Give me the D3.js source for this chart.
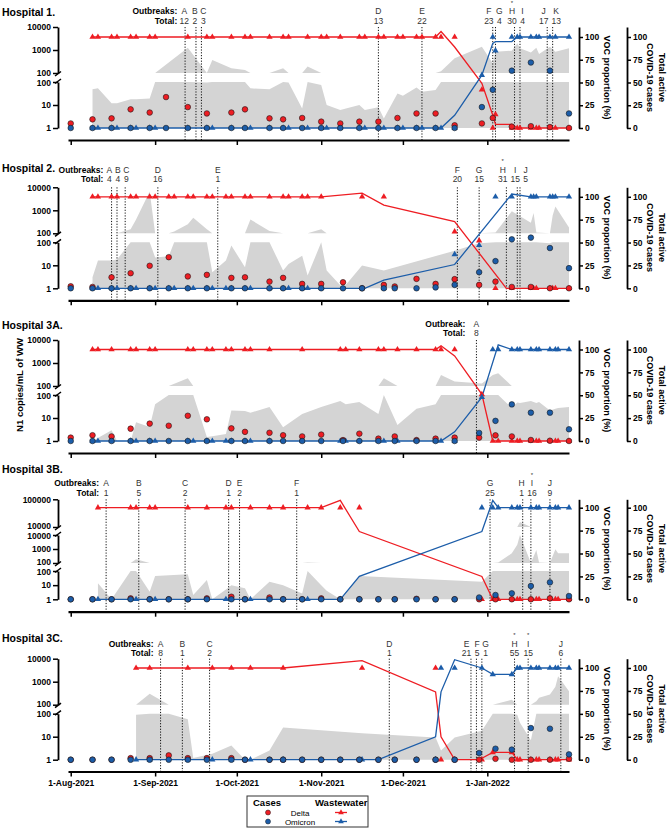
<!DOCTYPE html>
<html>
<head>
<meta charset="utf-8">
<script src="https://cdn.jsdelivr.net/npm/d3@7"></script>
<style>
  body { margin: 0; background: #fff; }
  svg { font-family: "Liberation Sans", Arial, Helvetica, sans-serif; }
</style>
</head>
<body>
<svg id="chart" width="667" height="830"></svg>
<script>
// ---- data: [date, N1 copies/mL], [date, delta %, omicron %], [date, delta cases, omicron cases]
const h1N1 = [["2021-08-09",48],["2021-08-11",53],["2021-08-16",12],["2021-08-18",12],["2021-08-23",18],["2021-08-25",18],["2021-08-30",19],["2021-09-01",100],["2021-09-13",1260],["2021-09-20",95],["2021-09-22",370],["2021-09-29",160],["2021-10-04",135],["2021-10-06",53],["2021-10-13",48],["2021-10-18",160],["2021-10-20",95],["2021-10-25",7],["2021-10-27",190],["2021-11-01",74],["2021-11-03",10],["2021-11-08",6],["2021-11-15",10],["2021-11-17",6],["2021-11-22",8],["2021-11-24",2.6],["2021-11-29",32],["2021-12-01",25],["2021-12-06",58],["2021-12-08",38],["2021-12-13",45],["2021-12-15",120],["2021-12-20",435],["2021-12-30",1390],["2022-01-03",263],["2022-01-04",840],["2022-01-10",930],["2022-01-12",1950],["2022-01-13",1180],["2022-01-17",770],["2022-01-19",1260],["2022-01-20",670],["2022-01-24",1400],["2022-01-26",840],["2022-01-31",1180]]
const h1Voc = [["2021-08-09",100,0],["2021-08-11",100,0],["2021-08-16",100,0],["2021-08-18",100,0],["2021-08-23",100,0],["2021-08-25",100,0],["2021-08-30",100,0],["2021-09-01",100,0],["2021-09-13",100,0],["2021-09-20",100,0],["2021-09-22",100,0],["2021-09-29",100,0],["2021-10-04",100,0],["2021-10-06",100,0],["2021-10-13",100,0],["2021-10-18",100,0],["2021-10-20",100,0],["2021-10-27",100,0],["2021-11-01",100,0],["2021-11-03",100,0],["2021-11-08",100,0],["2021-11-15",100,0],["2021-11-17",100,0],["2021-11-22",100,0],["2021-11-24",100,0],["2021-11-29",100,0],["2021-12-01",100,0],["2021-12-06",100,0],["2021-12-08",100,0],["2021-12-13",100,0],["2021-12-15",100,0],["2021-12-20",100,0],["2021-12-30",42,58],["2022-01-03",0,100],["2022-01-04",15,85],["2022-01-10",0,100],["2022-01-12",0,100],["2022-01-13",0,100],["2022-01-17",0,100],["2022-01-19",0,100],["2022-01-20",0,100],["2022-01-24",0,100],["2022-01-26",0,100],["2022-01-31",0,100]]
const h1DeltaFit = [["2021-08-09",100],["2021-12-13",100],["2021-12-15",106],["2021-12-20",89],["2021-12-30",49],["2022-01-03",14],["2022-01-04",4],["2022-01-10",4],["2022-01-12",0],["2022-01-31",0]]
const h1OmicronFit = [["2021-08-09",0],["2021-12-15",0],["2021-12-20",14],["2021-12-30",58],["2022-01-03",93],["2022-01-04",95],["2022-01-10",95],["2022-01-12",100],["2022-01-31",100]]
const h1Cases = [["2021-08-01",5,0],["2021-08-09",9.5,0],["2021-08-16",10.6,0],["2021-08-23",20.5,0],["2021-08-30",17,0],["2021-09-05",34,0],["2021-09-13",23,0],["2021-09-20",16,0],["2021-09-29",17,0],["2021-10-04",20.5,0],["2021-10-13",10.6,0],["2021-10-18",9.5,0],["2021-10-25",11,0],["2021-11-01",7,0],["2021-11-08",5,0],["2021-11-15",7,0],["2021-11-22",7,0],["2021-11-29",11,0],["2021-12-06",16,0],["2021-12-13",16,0],["2021-12-20",3,0],["2021-12-30",5,23],["2022-01-03",11,42],["2022-01-10",1.5,63],["2022-01-17",2,72],["2022-01-24",1,63],["2022-01-31",0,16]]
const h1Outbreaks = [["A","2021-09-12",12],["B","2021-09-16",2],["C","2021-09-18",3],["D","2021-11-22",13],["E","2021-12-08",22],["F","2022-01-03",23],["G","2022-01-04",4],["H","2022-01-11",30,"*"],["I","2022-01-13",4],["J","2022-01-23",17],["K","2022-01-25",13]]

const h2N1 = [["2021-08-09",3],["2021-08-11",16],["2021-08-16",16],["2021-08-18",18],["2021-08-23",150],["2021-08-25",400],["2021-08-30",6500],["2021-09-01",22],["2021-09-06",25],["2021-09-08",120],["2021-09-13",245],["2021-09-15",470],["2021-09-20",150],["2021-09-22",5],["2021-09-27",16],["2021-09-29",72],["2021-10-04",8.2],["2021-10-06",400],["2021-10-13",125],["2021-10-18",5.9],["2021-10-20",11.5],["2021-10-25",26],["2021-10-27",3.6],["2021-11-01",150],["2021-11-03",5.9],["2021-11-09",1],["2021-11-16",9.7],["2021-11-24",5.9],["2021-12-20",43],["2021-12-29",90],["2022-01-04",107],["2022-01-10",900],["2022-01-17",290],["2022-01-18",770],["2022-01-19",107],["2022-01-24",90],["2022-01-25",600],["2022-01-26",1480],["2022-01-31",180]]
const h2Voc = [["2021-08-09",100,0],["2021-08-11",100,0],["2021-08-16",100,0],["2021-08-18",100,0],["2021-08-23",100,0],["2021-08-25",100,0],["2021-08-30",100,0],["2021-09-01",100,0],["2021-09-06",100,0],["2021-09-08",100,0],["2021-09-13",100,0],["2021-09-15",100,0],["2021-09-20",100,0],["2021-09-22",100,0],["2021-09-27",100,0],["2021-09-29",100,0],["2021-10-04",100,0],["2021-10-06",100,0],["2021-10-13",100,0],["2021-10-18",100,0],["2021-10-20",100,0],["2021-10-25",100,0],["2021-10-27",100,0],["2021-11-01",100,0],["2021-11-16",100,0],["2021-11-24",100,0],["2021-12-20",62,37],["2021-12-29",52,47],["2022-01-04",0,100],["2022-01-10",0,100],["2022-01-17",0,100],["2022-01-18",0,100],["2022-01-19",0,100],["2022-01-24",0,100],["2022-01-25",0,100],["2022-01-26",0,100],["2022-01-31",0,100]]
const h2DeltaFit = [["2021-08-09",100],["2021-11-01",100],["2021-11-16",104],["2021-11-24",91],["2021-12-20",73],["2022-01-08",0],["2022-01-31",0]]
const h2OmicronFit = [["2021-08-09",0],["2021-11-17",0],["2021-11-24",9],["2021-12-20",26],["2022-01-10",103],["2022-01-17",100],["2022-01-31",100]]
const h2Cases = [["2021-08-01",2.2,0],["2021-08-09",1.5,0],["2021-08-16",12,0],["2021-08-23",16.5,0],["2021-08-30",24.6,0],["2021-09-06",34,0],["2021-09-13",13,0],["2021-09-20",14.7,0],["2021-09-29",11.4,0],["2021-10-04",12,0],["2021-10-13",7.3,0],["2021-10-18",11.4,0],["2021-10-25",4.8,0],["2021-11-01",4.8,0],["2021-11-09",6.6,0],["2021-11-16",0,0],["2021-11-24",3.7,0],["2021-11-28",2,0],["2021-12-06",10.3,0],["2021-12-13",4.8,1],["2021-12-20",10,3.7],["2021-12-29",3.7,17.6],["2022-01-04",7.3,29.7],["2022-01-10",1.5,53.5],["2022-01-17",1.5,55.4],["2022-01-24",0,44],["2022-01-31",0,22]]
const h2Outbreaks = [["A","2021-08-16",4],["B","2021-08-18",4],["C","2021-08-21",9],["D","2021-09-02",16],["E","2021-09-24",1],["F","2021-12-21",20],["G","2021-12-29",15],["H","2022-01-08",31,"*"],["I","2022-01-12",15],["J","2022-01-13",5]]

const h3aN1 = [["2021-08-09",1],["2021-08-16",2.9],["2021-08-18",1],["2021-08-23",1],["2021-08-25",6.6],["2021-08-30",4.1],["2021-09-01",40],["2021-09-06",100],["2021-09-13",215],["2021-09-15",100],["2021-09-20",1.5],["2021-09-22",1.6],["2021-09-27",2],["2021-09-29",21],["2021-10-04",20],["2021-10-06",17],["2021-10-13",30],["2021-10-18",4],["2021-10-25",15],["2021-11-01",30],["2021-11-08",55],["2021-11-10",40],["2021-11-15",50],["2021-11-22",15],["2021-11-24",215],["2021-11-29",5],["2021-12-06",25],["2021-12-13",40],["2021-12-15",300],["2021-12-20",155],["2021-12-30",130],["2022-01-03",300],["2022-01-05",360],["2022-01-10",27],["2022-01-12",47],["2022-01-13",45],["2022-01-17",55],["2022-01-19",45],["2022-01-20",50],["2022-01-24",21],["2022-01-26",25],["2022-01-27",27],["2022-01-31",30]]
const h3aVoc = [["2021-08-09",100,0],["2021-08-11",100,0],["2021-08-16",100,0],["2021-08-23",100,0],["2021-08-25",100,0],["2021-08-30",100,0],["2021-09-01",100,0],["2021-09-13",100,0],["2021-09-15",100,0],["2021-09-20",100,0],["2021-09-22",100,0],["2021-09-27",100,0],["2021-09-29",100,0],["2021-10-04",100,0],["2021-10-06",100,0],["2021-10-13",100,0],["2021-10-25",100,0],["2021-11-08",100,0],["2021-11-10",100,0],["2021-11-15",100,0],["2021-11-22",100,0],["2021-11-24",100,0],["2021-11-29",100,0],["2021-12-06",100,0],["2021-12-13",100,0],["2021-12-15",100,0],["2021-12-20",100,0],["2021-12-30",51,48],["2022-01-03",0,100],["2022-01-05",0,100],["2022-01-10",0,100],["2022-01-12",0,100],["2022-01-13",0,100],["2022-01-17",0,100],["2022-01-19",0,100],["2022-01-20",0,100],["2022-01-24",0,100],["2022-01-26",0,100],["2022-01-27",0,100],["2022-01-31",0,100]]
const h3aDeltaFit = [["2021-08-09",100],["2021-12-13",100],["2021-12-15",104],["2021-12-20",93],["2021-12-30",51],["2022-01-03",0],["2022-01-31",0]]
const h3aOmicronFit = [["2021-08-09",0],["2021-12-15",0],["2021-12-20",10],["2021-12-30",48],["2022-01-05",105],["2022-01-10",100],["2022-01-31",100]]
const h3aCases = [["2021-08-01",3.7,0],["2021-08-09",6.3,0],["2021-08-16",5,0],["2021-08-23",13.5,0],["2021-08-30",19,0],["2021-09-06",16.7,0],["2021-09-13",27.6,0],["2021-09-20",23.7,0],["2021-09-29",13.8,0],["2021-10-04",10,0],["2021-10-13",9,0],["2021-10-18",6.3,0],["2021-10-25",5,0],["2021-11-01",7,0],["2021-11-09",1,0],["2021-11-15",8,0],["2021-11-22",2.6,0],["2021-11-28",5,0],["2021-12-06",1,0],["2021-12-13",2.6,0],["2021-12-20",3.7,0],["2021-12-29",3.7,8.8],["2022-01-04",6.2,22],["2022-01-10",5,40],["2022-01-17",1.1,31],["2022-01-24",0.3,31],["2022-01-31",0,12.8]]
const h3aOutbreaks = [["A","2021-12-28",8]]

const h3bN1 = [["2021-08-11",13.5],["2021-08-16",1],["2021-08-23",100],["2021-08-25",184],["2021-08-30",3.4],["2021-09-01",44],["2021-09-13",60],["2021-09-15",2],["2021-09-20",23],["2021-09-22",1],["2021-09-27",5],["2021-09-29",10],["2021-10-04",6],["2021-10-06",1],["2021-10-13",17.5],["2021-10-18",10],["2021-10-25",2.6],["2021-10-27",110],["2021-11-01",10],["2021-11-03",4],["2021-11-08",1],["2021-11-15",44],["2021-12-30",17.5],["2022-01-03",100],["2022-01-05",110],["2022-01-10",490],["2022-01-12",2000],["2022-01-13",15000],["2022-01-17",100],["2022-01-19",850],["2022-01-20",110],["2022-01-24",100],["2022-01-26",950],["2022-01-27",500],["2022-01-31",500]]
const h3bVoc = [["2021-08-11",100,0],["2021-08-23",100,0],["2021-08-25",100,0],["2021-08-30",100,0],["2021-09-01",100,0],["2021-09-13",100,0],["2021-09-20",100,0],["2021-09-27",100,0],["2021-09-29",100,0],["2021-10-06",100,0],["2021-10-13",100,0],["2021-10-18",100,0],["2021-10-27",100,0],["2021-11-01",100,0],["2021-11-08",100,0],["2021-11-15",100,0],["2021-12-30",0,100],["2022-01-03",0,100],["2022-01-05",0,100],["2022-01-10",0,100],["2022-01-12",0,100],["2022-01-13",0,100],["2022-01-17",0,100],["2022-01-19",0,100],["2022-01-20",0,100],["2022-01-24",0,100],["2022-01-26",0,100],["2022-01-27",0,100],["2022-01-31",0,100]]
const h3bDeltaFit = [["2021-08-11",100],["2021-11-01",100],["2021-11-08",108],["2021-11-15",74],["2021-12-30",25],["2022-01-03",0],["2022-01-31",0]]
const h3bOmicronFit = [["2021-08-11",0],["2021-11-08",0],["2021-11-15",25],["2021-12-30",74],["2022-01-03",108],["2022-01-05",100],["2022-01-31",100]]
const h3bCases = [["2021-08-01",0,0],["2021-08-09",0,0],["2021-08-16",0,0],["2021-08-23",1,0],["2021-08-30",0,0],["2021-09-06",0,0],["2021-09-13",0,0],["2021-09-20",1,0],["2021-09-29",2.8,0],["2021-10-04",0,0],["2021-10-13",2,0],["2021-10-18",0,0],["2021-10-25",0,0],["2021-11-01",1,0],["2021-11-08",0,0],["2021-11-15",0,0],["2021-11-22",0,0],["2021-11-28",0,0],["2021-12-06",0.5,0],["2021-12-13",0,0],["2021-12-20",0,0],["2021-12-29",0,2],["2022-01-04",0,4.7],["2022-01-10",0,6.5],["2022-01-17",0,14.5],["2022-01-24",1,18.5],["2022-01-31",0,3.6]]
const h3bOutbreaks = [["A","2021-08-14",1],["B","2021-08-26",5],["C","2021-09-12",2],["D","2021-09-28",1],["E","2021-10-02",2],["F","2021-10-23",1],["G","2022-01-02",25],["H","2022-01-14",1],["I","2022-01-17",16,"*"],["J","2022-01-24",9]]

const h3cN1 = [["2021-08-25",90],["2021-08-30",300],["2021-09-06",100],["2021-09-13",57],["2021-09-15",1.2],["2021-09-22",1.8],["2021-09-29",4.1],["2021-10-04",1],["2021-10-06",1],["2021-10-13",2.5],["2021-10-18",25],["2021-11-16",14],["2021-12-13",9.3],["2021-12-15",2.5],["2021-12-20",9.3],["2021-12-30",18],["2022-01-03",100],["2022-01-10",165],["2022-01-12",90],["2022-01-13",40],["2022-01-17",7],["2022-01-19",140],["2022-01-20",200],["2022-01-24",275],["2022-01-26",600],["2022-01-27",1730],["2022-01-31",380]]
const h3cVoc = [["2021-08-25",100,0],["2021-08-30",100,0],["2021-09-13",100,0],["2021-09-22",100,0],["2021-09-29",100,0],["2021-10-06",100,0],["2021-10-18",100,0],["2021-11-16",100,0],["2021-12-13",100,0],["2021-12-15",0,100],["2021-12-20",0,100],["2021-12-30",0,100],["2022-01-03",8,93],["2022-01-10",8,93],["2022-01-12",0,100],["2022-01-13",0,100],["2022-01-17",0,100],["2022-01-19",0,100],["2022-01-20",0,100],["2022-01-24",0,100],["2022-01-26",0,100],["2022-01-27",0,100],["2022-01-31",0,100]]
const h3cDeltaFit = [["2021-08-25",100],["2021-10-18",100],["2021-11-16",108],["2021-12-13",74],["2021-12-15",25],["2021-12-20",0],["2021-12-29",0],["2022-01-03",8],["2022-01-10",8],["2022-01-12",0],["2022-01-31",0]]
const h3cOmicronFit = [["2021-08-25",0],["2021-11-22",0],["2021-12-13",25],["2021-12-15",74],["2021-12-20",109],["2021-12-30",100],["2022-01-03",93],["2022-01-10",93],["2022-01-12",100],["2022-01-31",100]]
const h3cCases = [["2021-08-01",0,0],["2021-08-09",0,0],["2021-08-16",0,0],["2021-08-23",1.7,0],["2021-08-30",1.7,0],["2021-09-06",4.7,0],["2021-09-13",1.7,0],["2021-09-20",1.7,0],["2021-09-29",1.7,0],["2021-10-04",0,0],["2021-10-13",0,0],["2021-10-18",0,0],["2021-10-25",0,0],["2021-11-01",0,0],["2021-11-08",0,0],["2021-11-15",0,0],["2021-11-22",0,0],["2021-11-28",0,0],["2021-12-06",0,0],["2021-12-13",0,0],["2021-12-20",0,0],["2021-12-29",0,7.3],["2022-01-04",1,12],["2022-01-10",0,11],["2022-01-17",0,34.5],["2022-01-24",0,33.8],["2022-01-31",1,5.8]]
const h3cOutbreaks = [["A","2021-09-03",8],["B","2021-09-11",1],["C","2021-09-21",2],["D","2021-11-26",1],["E","2021-12-26",21],["F","2021-12-28",5],["G","2021-12-30",1],["H","2022-01-11",55,"*"],["I","2022-01-16",15,"*"],["J","2022-01-28",6]]

const pctTicks = [0, 25, 50, 75, 100]

// ---- layout
const RED = "#ee1d23", BLUE = "#1c5da9", GREY = "#d4d4d4"
const FONT = 8.5
const parse = d3.utcParse("%Y-%m-%d")
const svg = d3.select("#chart")

const x = d3.scaleUtc()
  .domain([parse("2021-07-31"), parse("2022-01-31")])
  .range([68, 569])
const months = d3.utcMonth.range(parse("2021-08-01"), parse("2022-02-01"))

function twoSegs(y0){
  return [{lo: 100, hi: 10000, yLo: y0 + 46, yHi: y0},
          {lo: 1, hi: 100, yLo: y0 + 101, yHi: y0 + 55}]
}

const panels = [
  {title: "Hospital 1.", titleY: 16, obText: "Outbreaks:", obY: 14, totY: 23.5, obGap: 7,
   segs: twoSegs(27), pctBase: 128, pct100: 37, axisY: 140,
   n1: h1N1, voc: h1Voc, deltaFit: h1DeltaFit, omicronFit: h1OmicronFit, cases: h1Cases, outbreaks: h1Outbreaks},
  {title: "Hospital 2.", titleY: 172, obText: "Outbreaks:", obY: 172.5, totY: 182, obGap: 6,
   segs: twoSegs(187.3), pctBase: 288.3, pct100: 196.8, axisY: 300.3,
   n1: h2N1, voc: h2Voc, deltaFit: h2DeltaFit, omicronFit: h2OmicronFit, cases: h2Cases, outbreaks: h2Outbreaks},
  {title: "Hospital 3A.", titleY: 329, obText: "Outbreak:", obY: 326.5, totY: 336, obGap: 11,
   segs: twoSegs(340), pctBase: 441, pct100: 349.5, axisY: 453,
   n1: h3aN1, voc: h3aVoc, deltaFit: h3aDeltaFit, omicronFit: h3aOmicronFit, cases: h3aCases, outbreaks: h3aOutbreaks},
  {title: "Hospital 3B.", titleY: 473, obText: "Outbreaks:", obY: 486, totY: 495.5, obGap: 7,
   segs: [{lo: 10000, hi: 100000, yLo: 527, yHi: 499.3},
          {lo: 100, hi: 10000, yLo: 563, yHi: 535},
          {lo: 1, hi: 100, yLo: 599.3, yHi: 571}],
   pctBase: 599.3, pct100: 507.7, axisY: 611.7,
   n1: h3bN1, voc: h3bVoc, deltaFit: h3bDeltaFit, omicronFit: h3bOmicronFit, cases: h3bCases, outbreaks: h3bOutbreaks},
  {title: "Hospital 3C.", titleY: 642, obText: "Outbreaks:", obY: 646.5, totY: 656, obGap: 7,
   segs: twoSegs(658.7), pctBase: 759.7, pct100: 668, axisY: 771.5,
   n1: h3cN1, voc: h3cVoc, deltaFit: h3cDeltaFit, omicronFit: h3cOmicronFit, cases: h3cCases, outbreaks: h3cOutbreaks}
]

const px = d => x(parse(d))

function styleAxis(g){
  g.attr("font-size", FONT).attr("font-family", null).attr("font-weight", "bold")
  g.select(".domain").attr("stroke-width", 1.8)
  g.selectAll(".tick line").attr("stroke-width", 1.5)
  g.selectAll(".tick text").attr("fill", "#000")
}

function spreadLabels(items){
  for (let it = 0; it < 60; it++) {
    for (let i = 1; i < items.length; i++) {
      const a = items[i - 1], b = items[i]
      const need = (a.w + b.w) / 2 + 2.5
      const gap = b.lx - a.lx
      if (gap < need) {
        const d = (need - gap) / 2
        a.lx -= d
        b.lx += d
      }
    }
  }
}

function drawPanel(p, showDates){
  const g = svg.append("g")
  const yTop = p.segs[0].yHi
  const segScales = p.segs.map(s => d3.scaleLog().domain([s.lo, s.hi]).range([s.yLo, s.yHi]))

  // right-hand percent / case scale, stretched up to the top of the left axis
  const pct0 = d3.scaleLinear().domain([0, 100]).range([p.pctBase, p.pct100])
  const pct = d3.scaleLinear().domain([0, pct0.invert(yTop)]).range([p.pctBase, yTop])

  // grey wastewater area, clipped into each axis segment
  p.segs.forEach((s, k) => {
    const sc = segScales[k]
    const area = d3.area()
      .x(d => px(d[0]))
      .y0(s.yLo)
      .y1(d => sc(Math.max(s.lo, Math.min(s.hi, d[1]))))
    g.append("path").datum(p.n1)
      .attr("d", area)
      .attr("fill", GREY)
  })

  // outbreak lines
  g.selectAll(".ob-line").data(p.outbreaks).enter().append("line")
    .attr("x1", d => px(d[1])).attr("x2", d => px(d[1]))
    .attr("y1", yTop).attr("y2", p.axisY)
    .attr("stroke", "#111").attr("stroke-width", 1)
    .attr("stroke-dasharray", "1.2,1.6")

  // outbreak labels
  const items = p.outbreaks.map(d => ({
    letter: d[0], total: d[2], star: d[3], x: px(d[1]), lx: px(d[1]),
    w: Math.max(6, String(d[2]).length * 5)
  }))
  spreadLabels(items)
  const lab = g.append("g").attr("font-size", 8.5).attr("fill", "#333").attr("text-anchor", "middle")
  lab.selectAll(".l").data(items).enter().append("text")
    .attr("x", d => d.lx).attr("y", p.obY).text(d => d.letter)
  lab.selectAll(".t").data(items).enter().append("text")
    .attr("x", d => d.lx).attr("y", p.totY).text(d => d.total)
  lab.selectAll(".s").data(items.filter(d => d.star)).enter().append("text")
    .attr("x", d => d.lx).attr("y", p.obY - 9.3).attr("font-size", 6).text(d => d.star)
  const obEnd = items[0].lx - p.obGap
  g.append("text").attr("x", obEnd).attr("y", p.obY).attr("text-anchor", "end")
    .attr("font-size", 8.5).attr("font-weight", "bold").text(p.obText)
  g.append("text").attr("x", obEnd).attr("y", p.totY).attr("text-anchor", "end")
    .attr("font-size", 8.5).attr("font-weight", "bold").text("Total:")

  // title
  g.append("text").attr("x", 2).attr("y", p.titleY)
    .attr("font-size", 10.5).attr("font-weight", "bold").attr("fill", "#000").text(p.title)

  // x axis
  g.append("g")
    .attr("transform", `translate(0,${p.axisY})`)
    .call(d3.axisBottom(x).tickValues(months).tickSize(5).tickSizeOuter(0).tickPadding(3)
      .tickFormat(showDates ? d3.utcFormat("%-d-%b-%Y") : ""))
    .call(styleAxis)
    .call(a => a.select(".domain").attr("stroke-width", 2.2))

  // broken log axis on the left; labels at a break are nudged apart a little
  p.segs.forEach((s, k) => {
    const ticks = d3.range(Math.log10(s.lo), Math.log10(s.hi) + 0.5).map(e => Math.pow(10, e))
    const ax = g.append("g")
      .attr("transform", "translate(58,0)")
      .call(d3.axisLeft(segScales[k]).tickValues(ticks).tickFormat(d3.format("d"))
        .tickSize(5).tickSizeOuter(0).tickPadding(2))
      .call(styleAxis)
    const next = p.segs[k + 1], prev = p.segs[k - 1]
    if (next) {
      const nudge = Math.max(0, (10 - (next.yHi - s.yLo)) / 2)
      ax.selectAll(".tick text").filter(d => d === s.lo).attr("transform", `translate(0,${-nudge})`)
    }
    if (prev) {
      const nudge = Math.max(0, (10 - (s.yHi - prev.yLo)) / 2)
      ax.selectAll(".tick text").filter(d => d === s.hi).attr("transform", `translate(0,${nudge})`)
    }
    if (k > 0) g.append("line")
      .attr("x1", 55).attr("x2", 61).attr("y1", s.yHi + 1.5).attr("y2", s.yHi - 3)
      .attr("stroke", "#000").attr("stroke-width", 1.5)
    if (next) g.append("line")
      .attr("x1", 55).attr("x2", 61).attr("y1", s.yLo + 3).attr("y2", s.yLo - 1.5)
      .attr("stroke", "#000").attr("stroke-width", 1.5)
  })

  // right axes: VOC proportion and total active cases
  ;[579, 627].forEach(ax => {
    g.append("g")
      .attr("transform", `translate(${ax},0)`)
      .call(d3.axisRight(pct).tickValues(pctTicks).tickSize(4).tickSizeOuter(0).tickPadding(2))
      .call(styleAxis)
  })

  const cy = (p.pctBase + p.pct100) / 2 - 5
  const rlab = g.append("g").attr("font-size", 9).attr("font-weight", "bold")
    .attr("fill", "#000").attr("text-anchor", "middle")
  rlab.append("text").attr("transform", `translate(607,${cy}) rotate(90)`).attr("dy", "0.35em")
    .text("VOC proportion (%)")
  rlab.append("text").attr("transform", `translate(662,${cy}) rotate(90)`).attr("dy", "0.35em")
    .text("Total active")
  rlab.append("text").attr("transform", `translate(650,${cy}) rotate(90)`).attr("dy", "0.35em")
    .text("COVID-19 cases")

  // wastewater VOC lines + triangles
  const line = d3.line().x(d => px(d[0])).y(d => pct(d[1]))
  g.append("path").datum(p.deltaFit).attr("d", line)
    .attr("fill", "none").attr("stroke", RED).attr("stroke-width", 1.3)
  g.append("path").datum(p.omicronFit).attr("d", line)
    .attr("fill", "none").attr("stroke", BLUE).attr("stroke-width", 1.3)

  const tri = d3.symbol().type(d3.symbolTriangle).size(17)
  g.selectAll(".tri-d").data(p.voc).enter().append("path")
    .attr("d", tri).attr("fill", RED)
    .attr("transform", d => `translate(${px(d[0])},${pct(d[1])})`)
  g.selectAll(".tri-o").data(p.voc).enter().append("path")
    .attr("d", tri).attr("fill", BLUE)
    .attr("transform", d => `translate(${px(d[0])},${pct(d[2])})`)

  // cases
  g.selectAll(".c-d").data(p.cases).enter().append("circle")
    .attr("cx", d => px(d[0])).attr("cy", d => pct(d[1])).attr("r", 2.8)
    .attr("fill", RED).attr("stroke", "#1a1a1a").attr("stroke-width", 0.6)
  g.selectAll(".c-o").data(p.cases).enter().append("circle")
    .attr("cx", d => px(d[0])).attr("cy", d => pct(d[2])).attr("r", 2.8)
    .attr("fill", BLUE).attr("stroke", "#1a1a1a").attr("stroke-width", 0.6)
}

panels.forEach((p, i) => drawPanel(p, i === panels.length - 1))

// shared left label
svg.append("text")
  .attr("transform", "translate(20,385) rotate(-90)")
  .attr("dy", "0.35em")
  .attr("text-anchor", "middle").attr("font-size", 9.5).attr("font-weight", "bold")
  .attr("fill", "#000")
  .text("N1 copies/mL of WW")

// legend
const lg = svg.append("g")
lg.append("rect").attr("x", 247).attr("y", 796).attr("width", 121).attr("height", 31)
  .attr("fill", "#fff").attr("stroke", "#333").attr("stroke-width", 1)
lg.append("text").attr("x", 253).attr("y", 805.5).attr("font-size", 9.5).attr("font-weight", "bold").text("Cases")
lg.append("text").attr("x", 315).attr("y", 805.5).attr("font-size", 9.5).attr("font-weight", "bold").text("Wastewater")
const legendRows = [["Delta", RED, 812.5], ["Omicron", BLUE, 821.5]]
legendRows.forEach(([name, col, ly]) => {
  lg.append("circle").attr("cx", 268).attr("cy", ly).attr("r", 2.5)
    .attr("fill", col).attr("stroke", "#1a1a1a").attr("stroke-width", 0.5)
  lg.append("text").attr("x", 300).attr("y", ly + 3).attr("text-anchor", "middle")
    .attr("font-size", 8).text(name)
  lg.append("line").attr("x1", 335).attr("x2", 347).attr("y1", ly).attr("y2", ly)
    .attr("stroke", col).attr("stroke-width", 1.3)
  lg.append("path").attr("d", d3.symbol().type(d3.symbolTriangle).size(14))
    .attr("transform", `translate(341,${ly})`).attr("fill", col)
})
</script>
</body>
</html>
